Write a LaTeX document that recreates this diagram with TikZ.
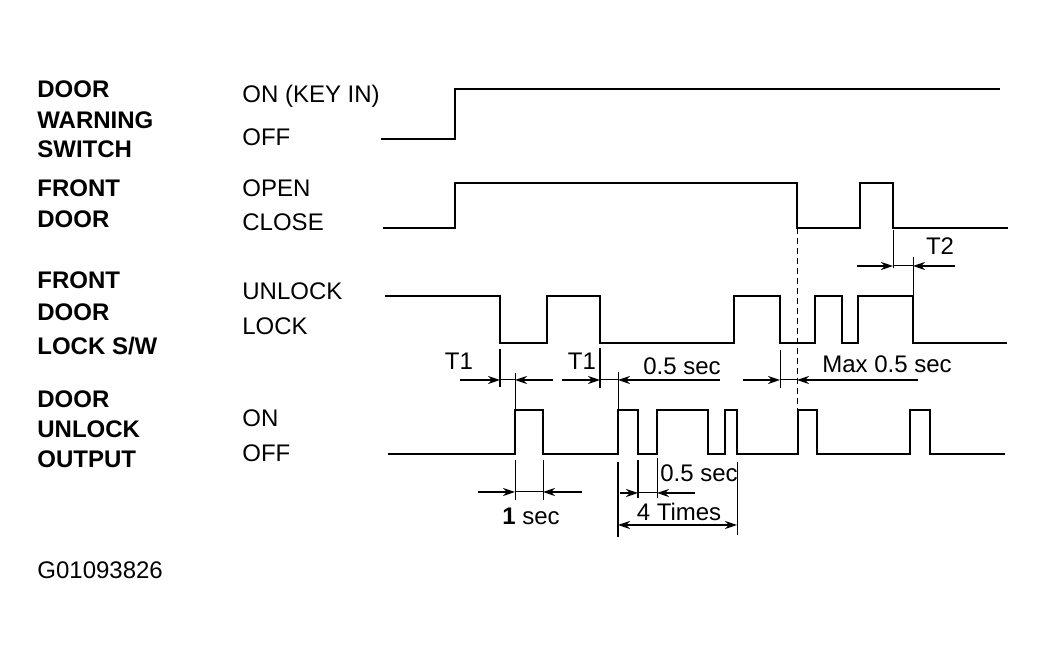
\documentclass[tikz,border=0pt]{standalone}
\usepackage{fontspec}
\setmainfont{Liberation Sans}
\usetikzlibrary{arrows.meta}
\tikzstyle{wave}=[line width=1.4pt]
\tikzstyle{arrow}=[line width=0.8pt,-{Stealth[length=6pt,width=4pt]}]
\tikzstyle{dimarrows}=[line width=0.8pt,{Stealth[length=6pt,width=4pt]}-{Stealth[length=6pt,width=4pt]}]
\tikzstyle{tick}=[line width=0.5pt]
\tikzstyle{thicktick}=[line width=1pt]
\tikzstyle{signame}=[anchor=base west, inner sep=0pt, font=\bfseries\fontsize{12}{14}\selectfont]
\tikzstyle{state}=[anchor=base west, inner sep=0pt, font=\fontsize{12}{14}\selectfont]
\tikzstyle{time}=[anchor=base, inner sep=0pt, font=\fontsize{12}{14}\selectfont]

\begin{document}
\begin{tikzpicture}[x=0.5pt, y=-0.5pt]
    \useasboundingbox (0,0) rectangle (1046,656);
    % signal names
    \node (n1a) [signame] at (37,98)  {DOOR};
    \node (n1b) [signame] at (37,129) {WARNING};
    \node (n1c) [signame] at (37,158) {SWITCH};
    \node (n2a) [signame] at (37,197) {FRONT};
    \node (n2b) [signame] at (37,228) {DOOR};
    \node (n3a) [signame] at (37,289) {FRONT};
    \node (n3b) [signame] at (37,321) {DOOR};
    \node (n3c) [signame] at (37,355) {LOCK S/W};
    \node (n4a) [signame] at (37,408) {DOOR};
    \node (n4b) [signame] at (37,438) {UNLOCK};
    \node (n4c) [signame] at (37,468) {OUTPUT};
    \node (code) [state] at (37,579) {G01093826};
    % states
    \node (s1h) [state] at (242,103) {ON (KEY IN)};
    \node (s1l) [state] at (242,146) {OFF};
    \node (s2h) [state] at (242,197) {OPEN};
    \node (s2l) [state] at (242,231) {CLOSE};
    \node (s3h) [state] at (242,300) {UNLOCK};
    \node (s3l) [state] at (242,335) {LOCK};
    \node (s4h) [state] at (242,427) {ON};
    \node (s4l) [state] at (242,462) {OFF};
    % waveforms
    \draw [wave] (381,139) -- (455,139) -- (455,89) -- (1000,89);
    \draw [wave] (383,228) -- (455,228) -- (455,183) -- (797,183) -- (797,228)
        -- (860,228) -- (860,183) -- (893,183) -- (893,228) -- (1008,228);
    \draw [wave] (385,296) -- (500,296) -- (500,343) -- (547,343) -- (547,296)
        -- (600,296) -- (600,343) -- (734,343) -- (734,296) -- (780,296)
        -- (780,343) -- (815,343) -- (815,296) -- (842,296) -- (842,343)
        -- (858,343) -- (858,296) -- (913,296) -- (913,343) -- (1007,343);
    \draw [wave] (388,454) -- (515,454) -- (515,410) -- (543,410) -- (543,454)
        -- (618,454) -- (618,410) -- (638,410) -- (638,454) -- (657,454)
        -- (657,410) -- (708,410) -- (708,454) -- (725,454) -- (725,410)
        -- (737,410) -- (737,454) -- (798,454) -- (798,410) -- (817,410)
        -- (817,454) -- (910,454) -- (910,410) -- (930,410) -- (930,454)
        -- (1005,454);
    \draw [tick, dash pattern=on 3pt off 2pt] (797,228) -- (797,410);
    % T1 and 0.5 sec
    \draw [thicktick] (500,349) -- (500,387);
    \draw [tick] (515,373) -- (515,410);
    \draw [arrow] (460,380) -- (500,380);
    \draw [tick] (500,380) -- (515,380);
    \draw [arrow] (553,380) -- (515,380);
    \node (t1a) [time] at (459,370) {T1};
    \draw [thicktick] (600,348) -- (600,388);
    \draw [tick] (618,372) -- (618,410);
    \draw [arrow] (562,380) -- (600,380);
    \draw [tick] (600,380) -- (618,380);
    \node (t1b) [time] at (582,370) {T1};
    \draw [arrow] (720,380) -- (618,380);
    \node (half1) [time] at (682,375) {0.5 sec};
    % Max 0.5 sec
    \draw [tick] (780,350) -- (780,388);
    \draw [arrow] (743,380) -- (780,380);
    \draw [tick] (780,380) -- (797,380);
    \draw [arrow] (918,380) -- (797,380);
    \node (maxhalf) [time] at (887,373) {Max 0.5 sec};
    % T2
    \draw [tick] (893,230) -- (893,268);
    \draw [tick] (913,257) -- (913,296);
    \draw [arrow] (857,266) -- (893,266);
    \draw [tick] (893,266) -- (913,266);
    \draw [arrow] (955,266) -- (913,266);
    \node (t2) [time] at (940,255) {T2};
    % 1 sec
    \draw [tick] (515,460) -- (515,500);
    \draw [tick] (543,460) -- (543,500);
    \draw [arrow] (478,492) -- (515,492);
    \draw [tick] (515,492) -- (543,492);
    \draw [arrow] (582,492) -- (543,492);
    \node (onesec) [time] at (531,525) {{\bfseries 1} sec};
    % 0.5 sec and 4 Times
    \draw [thicktick] (618,462) -- (618,537);
    \draw [thicktick] (638,460) -- (638,498);
    \draw [tick] (657,458) -- (657,498);
    \draw [tick] (737,462) -- (737,535);
    \draw [arrow] (620,493) -- (638,493);
    \draw [tick] (638,493) -- (657,493);
    \draw [arrow] (695,493) -- (657,493);
    \node (half2) [time] at (699,482) {0.5 sec};
    \draw [dimarrows] (618,525) -- (737,525);
    \node (times) [time] at (679,521) {4 Times};
\end{tikzpicture}
\end{document}
